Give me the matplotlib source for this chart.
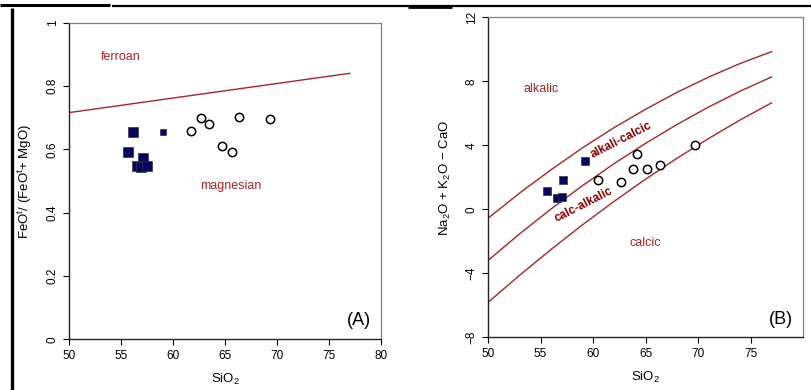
import numpy as np
import matplotlib
matplotlib.use('Agg')
import matplotlib.pyplot as plt
from matplotlib.lines import Line2D

plt.rcParams['font.family'] = ['Liberation Sans', 'DejaVu Sans']
plt.rcParams['mathtext.default'] = 'regular'

# --- (A) Fe-number vs silica ---
a_sq_sio2 = [56.2, 55.7, 57.1, 56.5, 56.9, 57.5]
a_sq_fe = [0.656, 0.593, 0.572, 0.548, 0.545, 0.548]
a_sqs_sio2 = [59.0]
a_sqs_fe = [0.656]
a_ci_sio2 = [61.7, 62.7, 63.5, 66.3, 69.3, 64.7, 65.7]
a_ci_fe = [0.657, 0.698, 0.679, 0.702, 0.696, 0.612, 0.591]

# ferroan / magnesian boundary
fe_line_sio2 = [50, 55, 60, 65, 70, 75, 77]
fe_line_val = [0.716, 0.739, 0.762, 0.785, 0.808, 0.831, 0.840]

# --- (B) MALI vs silica ---
b_sq_sio2 = [57.1, 55.6, 56.6, 57.0]
b_sq_mali = [1.81, 1.14, 0.69, 0.79]
b_sqs_sio2 = [59.2]
b_sqs_mali = [3.0]
b_ci_sio2 = [60.5, 62.7, 63.8, 64.2, 65.1, 66.4, 69.7]
b_ci_mali = [1.81, 1.73, 2.52, 3.48, 2.52, 2.77, 4.0]

mali_sio2 = [50, 53, 56, 59, 62, 65, 68, 71, 74, 77]
mali_alk = [-0.56, 1.01, 2.47, 3.84, 5.10, 6.25, 7.31, 8.26, 9.11, 9.85]
mali_ac = [-3.20, -1.54, 0.02, 1.48, 2.85, 4.12, 5.30, 6.39, 7.38, 8.27]
mali_ca = [-5.82, -4.13, -2.51, -0.97, 0.49, 1.88, 3.19, 4.42, 5.58, 6.65]

red = '#a82424'
dred = '#8b0000'
navy = '#05055e'

fig = plt.figure(figsize=(8.12, 3.9), dpi=100, facecolor='white')
W, H = 812.0, 390.0


def box(px0, py0, px1, py1):
    return [px0 / W, 1 - py1 / H, (px1 - px0) / W, (py1 - py0) / H]


def style(ax):
    for s in ['top', 'right']:
        ax.spines[s].set_color('#808080')
        ax.spines[s].set_linewidth(0.9)
    for s in ['left', 'bottom']:
        ax.spines[s].set_color('#222222')
        ax.spines[s].set_linewidth(1.0)
    ax.tick_params(direction='out', length=4, width=0.8, labelsize=8.5,
                   top=False, right=False)
    ax.tick_params(axis='y', labelrotation=90)
    for lab in ax.get_yticklabels():
        lab.set_va('center')


def squares(ax, x, y, ms):
    ax.plot(x, y, 's', ms=ms, mfc=navy, mec='#333344', mew=0.5, ls='none')


def circles(ax, x, y):
    ax.plot(x, y, 'o', ms=6, mfc='white', mec='black', mew=1.1, ls='none')


# panel A
ax1 = fig.add_axes(box(69, 22.7, 381, 339.3))
ax1.plot(fe_line_sio2, fe_line_val, color=red, lw=1.0)
squares(ax1, a_sq_sio2, a_sq_fe, 6.6)
squares(ax1, a_sqs_sio2, a_sqs_fe, 4.6)
circles(ax1, a_ci_sio2, a_ci_fe)
ax1.set_xlim(50, 80)
ax1.set_ylim(0, 1)
ax1.set_xticks([50, 55, 60, 65, 70, 75, 80])
ax1.set_yticks([0, 0.2, 0.4, 0.6, 0.8, 1])
ax1.set_yticklabels(['0', '0.2', '0.4', '0.6', '0.8', '1'])
style(ax1)
ax1.set_xlabel('SiO$_2$', fontsize=9.5, labelpad=7)
ax1.set_ylabel('FeO$^{t}$/ (FeO$^{t}$+ MgO)', fontsize=9.5, labelpad=9)
ax1.text(53.1, 0.892, 'ferroan', color=red, fontsize=9, va='center')
ax1.text(62.6, 0.485, 'magnesian', color=red, fontsize=9, va='center')
ax1.text(79.0, 0.058, '(A)', fontsize=13, ha='right', va='center')

# panel B
ax2 = fig.add_axes(box(488, 17.3, 803, 337.3))
for yy in (mali_alk, mali_ac, mali_ca):
    ax2.plot(mali_sio2, yy, color=red, lw=1.0)
squares(ax2, b_sq_sio2, b_sq_mali, 6.0)
squares(ax2, b_sqs_sio2, b_sqs_mali, 5.2)
circles(ax2, b_ci_sio2, b_ci_mali)
ax2.set_xlim(50, 80)
ax2.set_ylim(-8, 12)
ax2.set_xticks([50, 55, 60, 65, 70, 75])
ax2.set_yticks([-8, -4, 0, 4, 8, 12])
style(ax2)
ax2.set_xlabel('SiO$_2$', fontsize=9.5, labelpad=7)
ax2.set_ylabel('Na$_2$O + K$_2$O $-$ CaO', fontsize=9.5, labelpad=9)
ax2.text(53.4, 7.54, 'alkalic', color=red, fontsize=9, va='center')
ax2.text(63.5, -2.09, 'calcic', color=red, fontsize=9, va='center')
ax2.text(62.7, 4.3, 'alkali-calcic', color=dred, fontsize=8.5, fontweight='bold',
         rotation=27, ha='center', va='center')
ax2.text(59.1, 0.25, 'calc-alkalic', color=dred, fontsize=8.5, fontweight='bold',
         rotation=27, ha='center', va='center')
ax2.text(79.0, -6.9, '(B)', fontsize=13, ha='right', va='center')

# frame rules around the figure
def rule(px0, py0, px1, py1, lw):
    fig.add_artist(Line2D([px0 / W, px1 / W], [1 - py0 / H, 1 - py1 / H],
                          transform=fig.transFigure, color='black', lw=lw,
                          solid_capstyle='butt'))

rule(0, 5, 110, 5, 2.2)
rule(112, 6, 812, 6, 1.6)
rule(408, 7, 452, 7, 2.0)
rule(12.5, 8, 12.5, 390, 2.4)

fig.savefig('out.png', dpi=100, facecolor='white')
